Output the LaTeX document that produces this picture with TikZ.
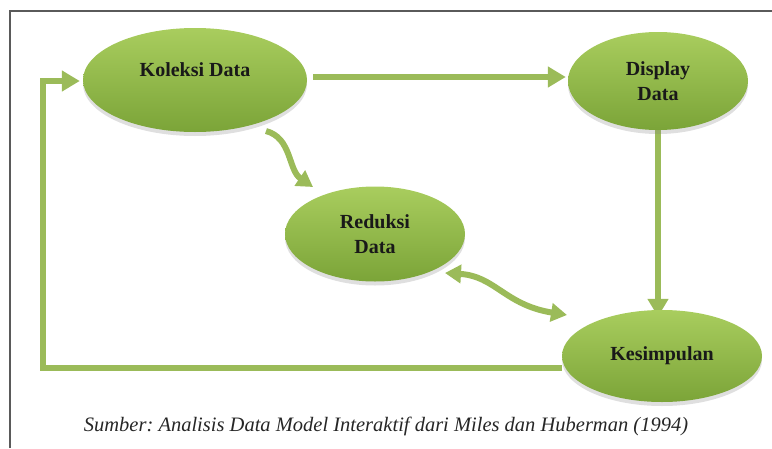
\documentclass[tikz,border=0pt]{standalone}
\usepackage{fontspec}
\setmainfont{Liberation Serif}
\usetikzlibrary{shapes.geometric,arrows.meta,shadows,backgrounds}
\definecolor{arrgreen}{HTML}{9BBB59}
\definecolor{elltop}{HTML}{A9CD5E}
\definecolor{ellbot}{HTML}{7BA438}
\definecolor{framegray}{HTML}{5A5A5A}
\frenchspacing

\begin{document}
\begin{tikzpicture}[
  x=1pt, y=-1pt,
  every node/.style={font=\fontsize{20}{25}\selectfont\bfseries, text=black!90, align=center},
  ell/.style={ellipse, inner sep=0pt, top color=elltop, bottom color=ellbot,
    drop shadow={opacity=0.25, shadow xshift=0pt, shadow yshift=-4pt}},
  flow/.style={draw=arrgreen, line width=6pt, -{Triangle[length=18pt,width=20pt]}},
  wave/.style={draw=arrgreen, line width=6pt, -{Triangle[length=16pt,width=18pt]}}
]
  \useasboundingbox (0,0) rectangle (772,448);
  \draw[framegray, line width=2pt] (10,448) -- (10,11) -- (772,11);

  \node[ell, minimum width=224pt, minimum height=104pt, text depth=20pt] (kol) at (195,80) {Koleksi Data};
  \node[ell, minimum width=180pt, minimum height=98pt] (dis) at (658,81) {Display\\Data};
  \node[ell, minimum width=180pt, minimum height=95pt] (red) at (375,234) {Reduksi\\Data};
  \node[ell, minimum width=200pt, minimum height=92pt] (kes) at (662,356) {Kesimpulan};

  \coordinate (lb) at (43,368);
  \coordinate (lt) at (43,81);
  \coordinate (k1) at (266,131);
  \coordinate (r1) at (313,187);
  \coordinate (r2) at (445,273);
  \coordinate (s1) at (567,315);

  \begin{scope}[on background layer]
    \draw[flow, shorten <=6pt, shorten >=2pt] (kol.east |- 0,77) -- (dis.west |- 0,77);
    \draw[flow, shorten >=-7pt] (dis.south) -- (dis.south |- kes.north);
    \draw[flow, shorten >=3pt] (kes.west |- lb) -- (lb) -- (lt) -- (kol.west |- lt);
    \draw[wave] (k1) .. controls (292,138) and (288,170) .. (r1);
    \draw[wave, {Triangle[length=16pt,width=18pt]}-{Triangle[length=16pt,width=18pt]}] (r2) .. controls (495,276) and (505,305) .. (s1);
  \end{scope}

  \node[font=\fontsize{20.5}{24}\selectfont\itshape, text=black!85] (cap) at (386,426)
    {Sumber: Analisis Data Model Interaktif dari Miles dan Huberman (1994)};
\end{tikzpicture}
\end{document}
